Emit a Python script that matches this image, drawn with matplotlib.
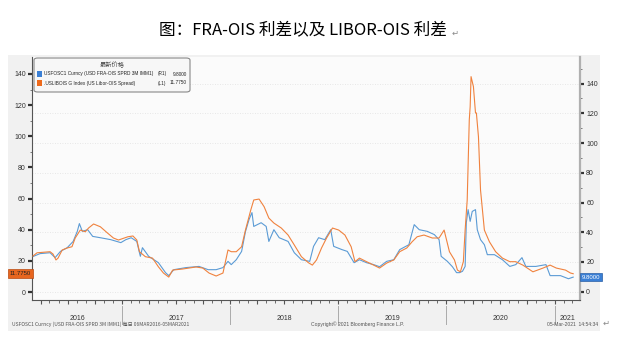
import matplotlib
matplotlib.use("Agg")
import matplotlib.pyplot as plt
import matplotlib.dates as mdates
from matplotlib.patches import Rectangle, FancyBboxPatch
import numpy as np
import pandas as pd

# LIBOR-OIS spread (left axis, L1)
libor_dates = ["2016-03-06", "2016-03-20", "2016-05-03", "2016-05-13", "2016-05-23", "2016-05-30", "2016-06-13", "2016-06-30", "2016-07-16", "2016-07-27",
               "2016-08-13", "2016-08-30", "2016-09-10", "2016-09-27", "2016-10-20", "2016-11-13", "2016-12-03", "2016-12-20", "2017-01-21", "2017-02-07",
               "2017-02-20", "2017-03-01", "2017-03-21", "2017-04-14", "2017-05-04", "2017-05-21", "2017-06-08", "2017-06-21", "2017-07-25", "2017-09-08",
               "2017-10-01", "2017-10-22", "2017-11-15", "2017-12-08", "2017-12-25", "2018-01-05", "2018-01-22", "2018-02-09", "2018-02-22", "2018-03-12",
               "2018-03-22", "2018-04-09", "2018-04-26", "2018-05-12", "2018-05-29", "2018-06-23", "2018-07-16", "2018-08-06", "2018-08-30", "2018-09-23",
               "2018-10-06", "2018-10-20", "2018-11-06", "2018-11-23", "2018-12-13", "2019-01-03", "2019-01-24", "2019-02-14", "2019-02-27", "2019-03-14",
               "2019-04-07", "2019-05-01", "2019-05-21", "2019-06-14", "2019-07-08", "2019-07-28", "2019-08-21", "2019-09-08", "2019-09-25", "2019-10-18",
               "2019-11-15", "2019-12-08", "2019-12-25", "2020-01-12", "2020-01-29", "2020-02-08", "2020-02-18", "2020-02-28", "2020-03-05", "2020-03-12",
               "2020-03-19", "2020-03-22", "2020-03-25", "2020-04-02", "2020-04-09", "2020-04-12", "2020-04-19", "2020-04-26", "2020-05-09", "2020-05-26",
               "2020-06-16", "2020-07-09", "2020-08-03", "2020-08-23", "2020-09-16", "2020-10-20", "2020-11-23", "2020-12-17", "2021-01-07", "2021-02-07",
               "2021-02-24", "2021-03-05"]
libor_vals = [23.1, 25.2, 25.9, 24.4, 20.6, 21.8, 27.0, 28.3, 29.1, 34.7,
              39.8, 38.7, 41.1, 43.7, 41.9, 37.9, 34.7, 33.4, 35.5, 36.0,
              33.4, 25.9, 22.7, 21.8, 16.2, 12.2, 9.6, 14.1, 14.8, 16.1,
              15.4, 12.2, 10.3, 12.2, 27.0, 25.9, 25.9, 29.1, 39.8, 52.7,
              59.1, 59.7, 54.8, 47.5, 44.3, 41.1, 36.6, 30.2, 22.7, 18.8,
              17.3, 20.6, 28.3, 34.7, 41.1, 39.8, 36.6, 29.1, 19.5, 21.8,
              19.5, 17.3, 15.4, 18.6, 20.6, 25.9, 28.3, 32.3, 35.5, 36.6,
              34.7, 34.7, 39.8, 25.9, 20.6, 14.1, 13.0, 19.5, 39.8, 59.1,
              110.5, 119.0, 138.3, 131.9, 115.0, 115.0, 99.7, 65.5, 39.8, 32.3,
              25.9, 21.8, 19.5, 19.5, 17.3, 13.0, 15.4, 17.3, 15.4, 14.1,
              12.2, 11.775]

# FRA-OIS spread (right axis, R1)
fra_dates = ["2016-03-06", "2016-03-30", "2016-05-03", "2016-05-20", "2016-06-07", "2016-06-30", "2016-07-20", "2016-08-03", "2016-08-10", "2016-08-20",
             "2016-09-07", "2016-09-24", "2016-10-20", "2016-11-24", "2016-12-28", "2017-01-14", "2017-02-01", "2017-02-20", "2017-03-01", "2017-03-04",
             "2017-03-11", "2017-04-01", "2017-05-04", "2017-05-28", "2017-06-08", "2017-06-25", "2017-08-05", "2017-09-18", "2017-10-19", "2017-11-15",
             "2017-12-08", "2017-12-25", "2018-01-05", "2018-01-22", "2018-02-09", "2018-02-22", "2018-03-06", "2018-03-16", "2018-03-22", "2018-04-16",
             "2018-05-03", "2018-05-12", "2018-05-29", "2018-06-16", "2018-07-16", "2018-08-06", "2018-08-30", "2018-09-27", "2018-10-10", "2018-10-27",
             "2018-11-17", "2018-12-07", "2018-12-17", "2019-01-14", "2019-02-01", "2019-02-24", "2019-03-14", "2019-04-07", "2019-05-01", "2019-05-21",
             "2019-06-14", "2019-07-08", "2019-07-28", "2019-08-28", "2019-09-15", "2019-10-02", "2019-10-29", "2019-11-22", "2019-12-08", "2019-12-15",
             "2020-01-05", "2020-01-22", "2020-02-05", "2020-02-15", "2020-02-25", "2020-03-05", "2020-03-09", "2020-03-15", "2020-03-22", "2020-03-29",
             "2020-04-09", "2020-04-15", "2020-04-26", "2020-05-09", "2020-05-19", "2020-06-12", "2020-07-09", "2020-08-03", "2020-08-23", "2020-09-13",
             "2020-09-26", "2020-10-30", "2020-12-03", "2020-12-17", "2021-01-21", "2021-02-17", "2021-03-05"]
fra_vals = [23.6, 25.6, 26.2, 22.9, 27.1, 29.6, 33.8, 40.6, 45.8, 40.6,
            41.7, 37.2, 36.3, 35.0, 33.0, 35.0, 36.3, 33.8, 26.2, 23.8,
            29.6, 23.8, 19.5, 12.8, 10.8, 14.8, 16.2, 17.0, 14.8, 14.8,
            16.2, 20.4, 18.2, 21.5, 27.1, 40.4, 48.5, 53.2, 43.9, 46.4,
            43.9, 33.8, 41.7, 36.3, 33.8, 26.2, 21.5, 20.4, 30.5, 36.3,
            35.0, 41.7, 30.5, 28.3, 27.1, 19.5, 21.5, 19.5, 18.2, 16.8,
            20.4, 21.5, 28.3, 31.6, 45.1, 41.7, 40.6, 38.4, 35.0, 23.8,
            20.4, 16.8, 12.8, 12.8, 13.7, 17.0, 46.4, 55.2, 47.3, 54.0,
            55.2, 41.7, 35.0, 31.6, 24.9, 24.9, 21.5, 17.0, 18.2, 22.9,
            17.0, 17.0, 18.2, 10.8, 10.8, 8.7, 9.8]

years = [2016, 2017, 2018, 2019, 2020, 2021]
left_ticks = [0, 20, 40, 60, 80, 100, 120, 140]
right_ticks = [0, 20, 40, 60, 80, 100, 120, 140]

BLUE = "#5b9bd5"
ORANGE = "#f0823e"
W, H = 622, 358
small = ["Liberation Sans", "DejaVu Sans"]
cjk = ["Noto Sans CJK SC", "DejaVu Sans"]


def fx(px):
    return px / W


def fy(py):
    return 1 - py / H


fig = plt.figure(figsize=(6.22, 3.58), dpi=100)
fig.patch.set_facecolor("white")

# gray Bloomberg panel behind everything
fig.patches.append(Rectangle((fx(8), fy(331)), fx(600) - fx(8), fy(55) - fy(331),
                             transform=fig.transFigure, facecolor="#f1f1f1", edgecolor="none", zorder=-5))

fig.text(fx(303), fy(31), "图：FRA-OIS 利差以及 LIBOR-OIS 利差", ha="center", va="center",
         fontsize=12, family=cjk)
fig.text(fx(452), fy(33), "\u21b5", ha="left", va="center", fontsize=6, color="#888888")

ax = fig.add_axes([fx(32), fy(300), fx(580) - fx(32), fy(57) - fy(300)])
ax2 = ax.twinx()
ax2.set_zorder(0)
ax.set_zorder(1)
ax.patch.set_visible(False)
ax2.patch.set_visible(True)
ax2.patch.set_facecolor("#fbfbfb")

ld = pd.to_datetime(libor_dates)
fd = pd.to_datetime(fra_dates)
ax2.plot(fd, fra_vals, color=BLUE, lw=0.8, zorder=3)
ax.plot(ld, libor_vals, color=ORANGE, lw=0.8, zorder=3)

ax.set_xlim(pd.Timestamp("2016-03-03"), pd.Timestamp("2021-03-28"))
ax.set_ylim(-5.1, 150.9)
ax2.set_ylim(-5.6, 157.9)

ax.xaxis.set_major_locator(mdates.MonthLocator(bymonth=[1, 4, 7, 10]))
ax.xaxis.set_minor_locator(mdates.MonthLocator())
ax.tick_params(axis="x", which="major", length=3, color="#555555", labelbottom=False)
ax.tick_params(axis="x", which="minor", length=2, color="#555555")
ax2.xaxis.set_major_locator(mdates.MonthLocator(bymonth=[1, 4, 7, 10]))
ax2.grid(axis="x", which="major", color="#d5d5d5", linestyle=(0, (1, 2)), lw=0.6)
ax2.yaxis.grid(True, color="#e0e0e0", linestyle=(0, (1, 2)), lw=0.6)

ax.set_yticks(left_ticks)
ax.set_yticks(np.arange(10, 150, 20), minor=True)
ax2.set_yticks(right_ticks)
ax2.set_yticks(np.arange(10, 160, 20), minor=True)
for a in (ax, ax2):
    a.tick_params(axis="y", which="major", length=3, width=1.6, color="#333333",
                  labelsize=5, pad=1.5, labelcolor="#333333")
    a.tick_params(axis="y", which="minor", length=1.5, width=0.6, color="#666666")
    for lab in a.get_yticklabels():
        lab.set_family(small)

for a in (ax, ax2):
    a.spines["top"].set_visible(False)
ax.spines["left"].set_color("#555555")
ax.spines["bottom"].set_color("#555555")
ax.spines["right"].set_visible(False)
ax2.spines["right"].set_color("#b0b0b0")
ax2.spines["right"].set_linewidth(1.6)
ax2.spines["left"].set_visible(False)
ax2.spines["bottom"].set_visible(False)

# year labels and separators
trans = ax.get_xaxis_transform()
x0, x1 = ax.get_xlim()
for yr in years:
    start = max(mdates.date2num(pd.Timestamp(f"{yr}-01-01")), x0)
    end = min(mdates.date2num(pd.Timestamp(f"{yr + 1}-01-01")), x1)
    ax.text((start + end) / 2, -0.075, str(yr), transform=trans, ha="center", va="center",
            fontsize=5, family=small, color="#333333")
    if yr > 2016:
        b = mdates.date2num(pd.Timestamp(f"{yr}-01-01"))
        ax.plot([b, b], [-0.025, -0.1], transform=trans, color="#aaaaaa", lw=0.7, clip_on=False)

# legend box
fig.patches.append(FancyBboxPatch((fx(34), fy(92)), fx(190) - fx(34), fy(58) - fy(92),
                                  boxstyle="round,pad=0,rounding_size=0.006", transform=fig.transFigure,
                                  facecolor="#f7f7f7", edgecolor="#888888", lw=0.8, zorder=5))
fig.text(fx(112), fy(65), "最新价格", ha="center", va="center", fontsize=4.5, family=cjk, color="#444444", zorder=6)
fig.patches.append(Rectangle((fx(37), fy(77)), fx(5), fy(71) - fy(77), transform=fig.transFigure,
                             facecolor="#3a7fd5", edgecolor="none", zorder=6))
fig.patches.append(Rectangle((fx(37), fy(86)), fx(5), fy(80) - fy(86), transform=fig.transFigure,
                             facecolor="#ee6a1c", edgecolor="none", zorder=6))
legend_rows = [(74, "USFOSC1 Curncy (USD FRA-OIS SPRD 3M IMM1)", "(R1)", "9.8000"),
               (83, ".USLIBOIS G Index (US Libor-OIS Spread)", "(L1)", "11.7750")]
for py, name, side, val in legend_rows:
    fig.text(fx(44), fy(py), name, ha="left", va="center", fontsize=3.4, family=small, color="#222222", zorder=6)
    fig.text(fx(158), fy(py), side, ha="left", va="center", fontsize=3.4, family=small, color="#222222", zorder=6)
    fig.text(fx(187), fy(py), val, ha="right", va="center", fontsize=3.4, family=small, color="#222222", zorder=6)

# last value tags
ax.annotate(f"{libor_vals[-1]:.4f}", xy=(0, libor_vals[-1]), xycoords=("axes fraction", "data"),
            xytext=(-8.5, 0), textcoords="offset points", ha="center", va="center",
            fontsize=4.3, family=small, color="#222222",
            bbox=dict(boxstyle="square,pad=0.3", facecolor="#e8661f", edgecolor="#b94a10", lw=0.5),
            annotation_clip=False)
ax2.annotate(f"{fra_vals[-1]:.4f}", xy=(1, fra_vals[-1]), xycoords=("axes fraction", "data"),
             xytext=(8, 0), textcoords="offset points", ha="center", va="center",
             fontsize=4.3, family=small, color="white",
             bbox=dict(boxstyle="square,pad=0.3", facecolor="#3a7fd5", edgecolor="#2a5fa5", lw=0.5),
             annotation_clip=False)

# footer
fig.text(fx(12), fy(324), "USFOSC1 Curncy (USD FRA-OIS SPRD 3M IMM1) 每日 06MAR2016-05MAR2021", ha="left",
         va="center", fontsize=3.6, family=cjk, color="#555555")
fig.text(fx(358), fy(324), "Copyright© 2021 Bloomberg Finance L.P.", ha="center", va="center",
         fontsize=3.6, family=small, color="#555555")
fig.text(fx(598), fy(324), "05-Mar-2021  14:54:34", ha="right", va="center", fontsize=3.6,
         family=small, color="#555555")
fig.text(fx(603), fy(323), "\u21b5", ha="left", va="center", fontsize=6, color="#888888")

fig.savefig("out.png", dpi=100)
